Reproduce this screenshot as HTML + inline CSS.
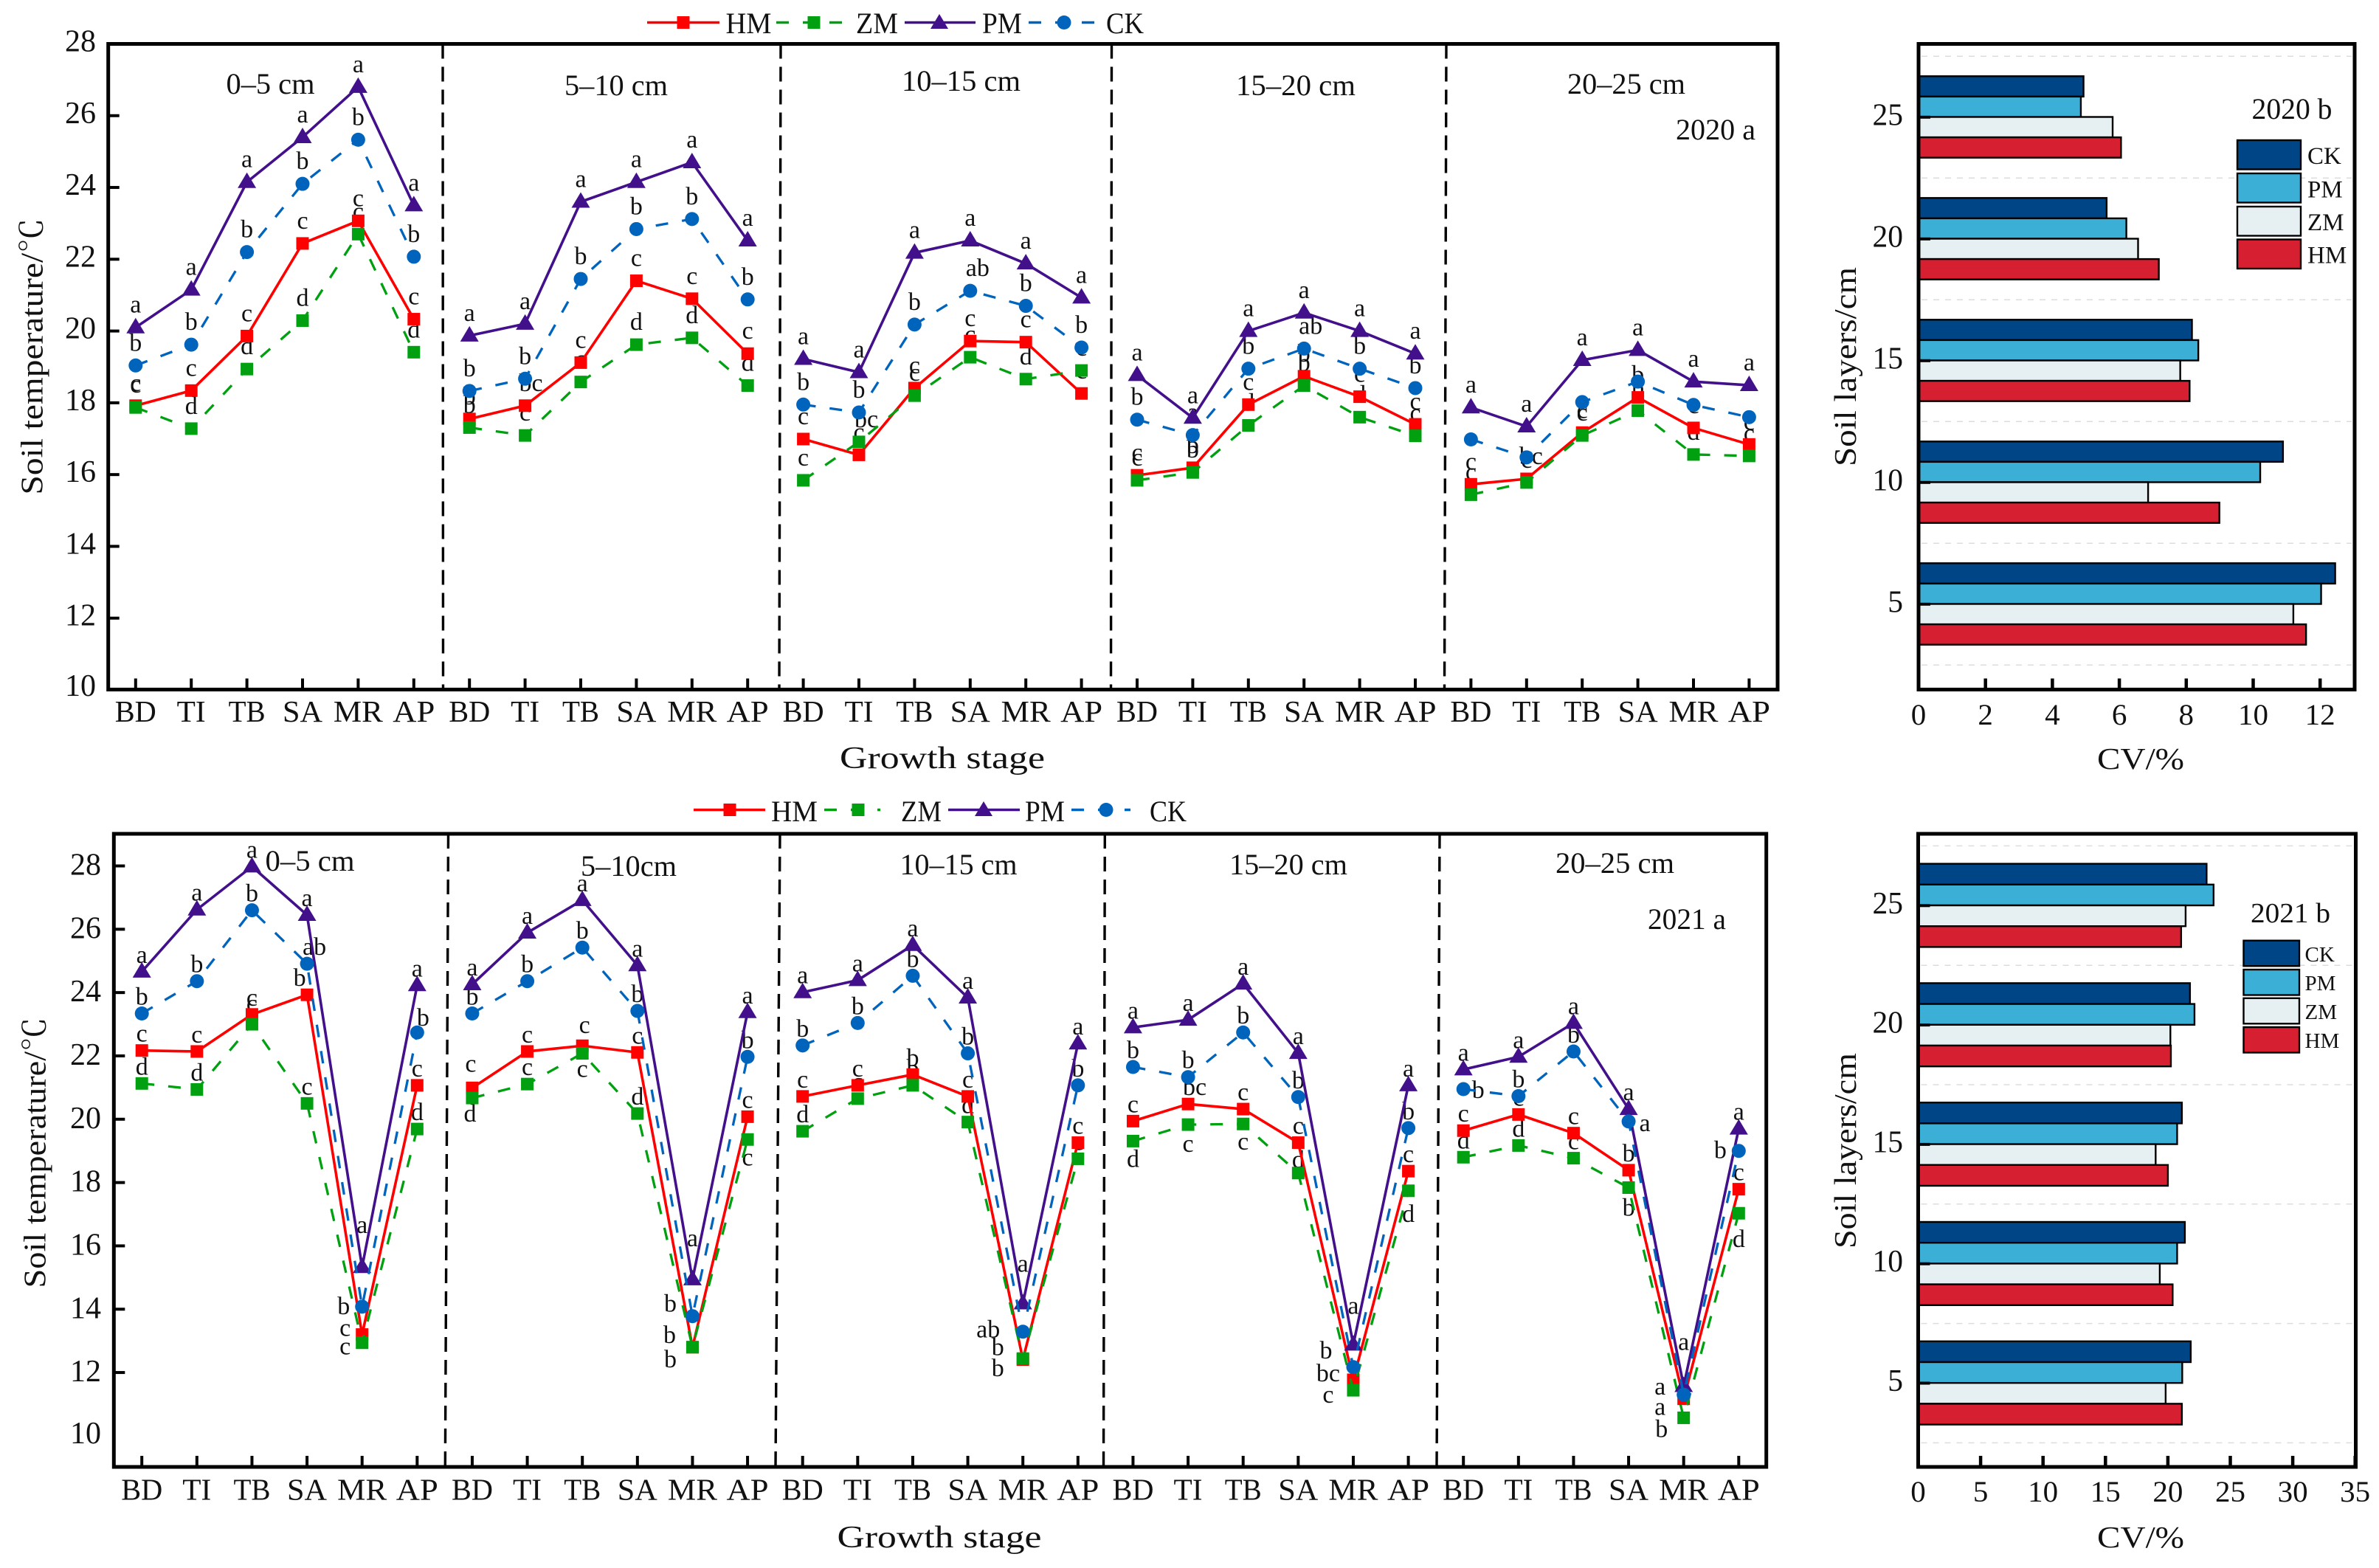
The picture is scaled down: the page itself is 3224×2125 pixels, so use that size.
<!DOCTYPE html>
<html lang="en">
<head>
<meta charset="utf-8">
<title>Soil temperature and CV by growth stage and soil layer, 2020 and 2021</title>
<style>
html,body{margin:0;padding:0;background:#fff;}
svg{display:block;}
text{font-family:"Liberation Serif","Noto Serif CJK SC",serif;fill:#111;}
</style>
</head>
<body>
<svg id="figure" xmlns="http://www.w3.org/2000/svg" width="3224" height="2125" viewBox="0 0 3224 2125">
  <rect x="0" y="0" width="3224" height="2125" fill="#fff"/>

  <!-- 2020 line chart static parts -->
  <g id="line2020">
    <text transform="translate(57.5 483) rotate(-90)" text-anchor="middle" font-size="42" textLength="375" lengthAdjust="spacingAndGlyphs">Soil temperature/℃</text>
    <text x="1277" y="1041" text-anchor="middle" font-size="42" textLength="278" lengthAdjust="spacingAndGlyphs">Growth stage</text>
    <text x="366.5" y="127" text-anchor="middle" font-size="40" textLength="120" lengthAdjust="spacingAndGlyphs">0–5 cm</text>
    <text x="835" y="129" text-anchor="middle" font-size="40" textLength="140" lengthAdjust="spacingAndGlyphs">5–10 cm</text>
    <text x="1302.5" y="123" text-anchor="middle" font-size="40" textLength="161" lengthAdjust="spacingAndGlyphs">10–15 cm</text>
    <text x="1756" y="129" text-anchor="middle" font-size="40" textLength="162" lengthAdjust="spacingAndGlyphs">15–20 cm</text>
    <text x="2204" y="127" text-anchor="middle" font-size="40" textLength="160" lengthAdjust="spacingAndGlyphs">20–25 cm</text>
    <text x="2325" y="189" text-anchor="middle" font-size="40" textLength="108" lengthAdjust="spacingAndGlyphs">2020 a</text>
    <g>
      <g>
        <line x1="877" y1="30.5" x2="975" y2="30.5" stroke="#ff0000" stroke-width="3.6"/>
        <rect x="917.5" y="22" width="17" height="17" fill="#ff0000"/>
        <text x="983.5" y="45" font-size="40" textLength="62" lengthAdjust="spacingAndGlyphs">HM</text>
      </g>
      <g>
        <line x1="1052" y1="30.5" x2="1148" y2="30.5" stroke="#00a010" stroke-width="3.4" stroke-dasharray="17 19"/>
        <rect x="1094.5" y="22" width="17" height="17" fill="#00a010"/>
        <text x="1160" y="45" font-size="40" textLength="57" lengthAdjust="spacingAndGlyphs">ZM</text>
      </g>
      <g>
        <line x1="1226" y1="30.5" x2="1322" y2="30.5" stroke="#43108c" stroke-width="3.6"/>
        <polygon points="1273,19 1285,39 1261,39" fill="#43108c"/>
        <text x="1331" y="45" font-size="40" textLength="54" lengthAdjust="spacingAndGlyphs">PM</text>
      </g>
      <g>
        <line x1="1394" y1="30.5" x2="1490" y2="30.5" stroke="#0064bd" stroke-width="3.4" stroke-dasharray="17 19"/>
        <circle cx="1442" cy="30.5" r="9.5" fill="#0064bd"/>
        <text x="1499" y="45" font-size="40" textLength="51" lengthAdjust="spacingAndGlyphs">CK</text>
      </g>
    </g>
  </g>

  <!-- 2021 line chart static parts -->
  <g id="line2021">
    <text transform="translate(61.7 1562) rotate(-90)" text-anchor="middle" font-size="42" textLength="367" lengthAdjust="spacingAndGlyphs">Soil temperature/℃</text>
    <text x="1273" y="2097" text-anchor="middle" font-size="42" textLength="277" lengthAdjust="spacingAndGlyphs">Growth stage</text>
    <text x="420" y="1180" text-anchor="middle" font-size="40" textLength="121" lengthAdjust="spacingAndGlyphs">0–5 cm</text>
    <text x="852" y="1187" text-anchor="middle" font-size="40" textLength="130" lengthAdjust="spacingAndGlyphs">5–10cm</text>
    <text x="1299" y="1185" text-anchor="middle" font-size="40" textLength="159" lengthAdjust="spacingAndGlyphs">10–15 cm</text>
    <text x="1746" y="1185" text-anchor="middle" font-size="40" textLength="160" lengthAdjust="spacingAndGlyphs">15–20 cm</text>
    <text x="2188.5" y="1183" text-anchor="middle" font-size="40" textLength="161" lengthAdjust="spacingAndGlyphs">20–25 cm</text>
    <text x="2286" y="1259" text-anchor="middle" font-size="40" textLength="106" lengthAdjust="spacingAndGlyphs">2021 a</text>
    <g>
      <g>
        <line x1="940" y1="1097.5" x2="1037" y2="1097.5" stroke="#ff0000" stroke-width="3.6"/>
        <rect x="980.5" y="1089" width="17" height="17" fill="#ff0000"/>
        <text x="1045" y="1113" font-size="40" textLength="63" lengthAdjust="spacingAndGlyphs">HM</text>
      </g>
      <g>
        <line x1="1117" y1="1097.5" x2="1193" y2="1097.5" stroke="#00a010" stroke-width="3.4" stroke-dasharray="17 19"/>
        <rect x="1154.5" y="1089" width="17" height="17" fill="#00a010"/>
        <text x="1221" y="1113" font-size="40" textLength="55" lengthAdjust="spacingAndGlyphs">ZM</text>
      </g>
      <g>
        <line x1="1285" y1="1097.5" x2="1382" y2="1097.5" stroke="#43108c" stroke-width="3.6"/>
        <polygon points="1333,1086 1345,1106 1321,1106" fill="#43108c"/>
        <text x="1389" y="1113" font-size="40" textLength="54" lengthAdjust="spacingAndGlyphs">PM</text>
      </g>
      <g>
        <line x1="1452" y1="1097.5" x2="1532" y2="1097.5" stroke="#0064bd" stroke-width="3.4" stroke-dasharray="17 19"/>
        <circle cx="1499" cy="1097.5" r="9.5" fill="#0064bd"/>
        <text x="1558" y="1113" font-size="40" textLength="50" lengthAdjust="spacingAndGlyphs">CK</text>
      </g>
    </g>
  </g>

  <!-- 2020 bar chart static parts -->
  <g id="bar2020">
    <text transform="translate(2515 497) rotate(-90)" text-anchor="middle" font-size="42" textLength="270" lengthAdjust="spacingAndGlyphs">Soil layers/cm</text>
    <text x="2901" y="1042" text-anchor="middle" font-size="41" textLength="118" lengthAdjust="spacingAndGlyphs">CV/%</text>
    <text x="3106" y="161" text-anchor="middle" font-size="40" textLength="109" lengthAdjust="spacingAndGlyphs">2020 b</text>
  </g>

  <!-- 2021 bar chart static parts -->
  <g id="bar2021">
    <text transform="translate(2515 1559.5) rotate(-90)" text-anchor="middle" font-size="42" textLength="265" lengthAdjust="spacingAndGlyphs">Soil layers/cm</text>
    <text x="2901" y="2097" text-anchor="middle" font-size="41" textLength="118" lengthAdjust="spacingAndGlyphs">CV/%</text>
    <text x="3104" y="1250" text-anchor="middle" font-size="38" textLength="108" lengthAdjust="spacingAndGlyphs">2021 b</text>
  </g>
</svg>

<script>
// ---------- Shared categories and ticks ----------
const categories = ["BD","TI","TB","SA","MR","AP"];
const tempTicks2020 = [10,12,14,16,18,20,22,24,26,28];
const tempTicks2021 = [10,12,14,16,18,20,22,24,26,28];
const cvTicks2020 = [0,2,4,6,8,10,12];
const cvTicks2021 = [0,5,10,15,20,25,30,35];
const layers = [25,20,15,10,5];
const barSeries = ["CK","PM","ZM","HM"];

// ---------- 2020 soil temperature (0-5, 5-10, 10-15, 15-20, 20-25 cm; six stages each) ----------
const hm2020 = [17.92,18.34,19.86,22.44,23.07,20.33, 17.55,17.92,19.12,21.40,20.90,19.37, 16.99,16.55,18.41,19.72,19.69,18.26, 15.98,16.19,17.95,18.74,18.17,17.40, 15.73,15.88,17.17,18.15,17.30,16.84];
const zm2020 = [17.87,17.28,18.94,20.29,22.70,19.41, 17.31,17.09,18.58,19.62,19.81,18.48, 15.84,16.91,18.20,19.27,18.66,18.90, 15.84,16.06,17.37,18.48,17.60,17.08, 15.44,15.78,17.09,17.78,16.56,16.52];
const pm2020 = [20.10,21.15,24.15,25.40,26.80,23.50, 19.87,20.20,23.60,24.15,24.70,22.52, 19.22,18.85,22.18,22.52,21.88,20.93, 18.77,17.58,20.00,20.51,20.00,19.37, 17.87,17.34,19.19,19.47,18.59,18.49];
const ck2020 = [19.04,19.62,22.20,24.10,25.33,22.07, 18.33,18.67,21.45,22.84,23.12,20.88, 17.95,17.73,20.18,21.12,20.70,19.54, 17.53,17.10,18.95,19.51,18.95,18.41, 16.98,16.48,18.02,18.59,17.94,17.60];

// ---------- 2021 soil temperature ----------
const hm2021 = [22.17,22.14,23.31,23.93,13.20,21.07, 20.99,22.14,22.32,22.11,12.80,20.08, 20.72,21.07,21.41,20.72,12.41,19.26, 19.94,20.48,20.32,19.26,11.77,18.36, 19.64,20.15,19.56,18.39,11.17,17.79];
const zm2021 = [21.13,20.94,23.00,20.50,12.94,19.69, 20.67,21.11,22.08,20.18,12.80,19.36, 19.62,20.65,21.07,19.91,12.44,18.75, 19.31,19.83,19.85,18.30,11.44,17.74, 18.80,19.17,18.77,17.84,10.57,17.03];
const pm2021 = [24.66,26.62,27.98,26.45,15.33,24.23, 24.26,25.89,26.92,24.86,14.94,23.38, 24.01,24.39,25.50,23.84,14.18,22.39, 22.90,23.14,24.28,22.09,12.88,21.07, 21.57,21.97,23.04,20.32,11.57,19.70];
const ck2021 = [23.34,24.36,26.60,24.91,14.08,22.74, 23.34,24.36,25.42,23.42,13.78,21.97, 22.33,23.04,24.53,22.08,13.29,21.07, 21.65,21.33,22.74,20.70,12.17,19.72, 20.95,20.73,22.14,19.93,11.30,19.00];

// ---------- Significance letters ----------
const hmLetters2020 = ["c","c","c","c","c","c", "b","bc","c","c","c","c", "c","c","c","c","c","c", "c","b","c","b","c","c", "c","bc","c","b","c","c"];
const zmLetters2020 = ["c","d","d","d","c","d", "b","c","c","d","d","d", "c","bc","c","c","d","c", "c","b","d","b","d","c", "c","c","c","b","d","c"];
const pmLetters2020 = ["a","a","a","a","a","a", "a","a","a","a","a","a", "a","a","a","a","a","a", "a","a","a","a","a","a", "a","a","a","a","a","a"];
const ckLetters2020 = ["b","b","b","b","b","b", "b","b","b","b","b","b", "b","b","b","ab","b","b", "b","a","b","ab","b","b", "","","","","",""];
const hmLetters2021 = ["c","c","c","b","c","c", "c","c","c","c","b","c", "c","c","b","c","b","c", "c","bc","c","c","bc","c", "c","c","c","b","a","c"];
const zmLetters2021 = ["d","d","c","c","c","d", "d","c","c","d","b","c", "d","c","b","d","b","c", "d","c","c","d","c","d", "d","d","c","b","b","d"];
const pmLetters2021 = ["a","a","a","a","a","a", "a","a","a","a","a","a", "a","a","a","a","a","a", "a","a","a","a","a","a", "a","a","a","a","a","a"];
const ckLetters2021 = ["b","b","b","ab","b","b", "b","b","b","b","b","b", "b","b","b","b","ab","b", "b","b","b","b","b","b", "b","b","b","a","a","b"];

// Label nudges away from the default spot above a marker, keyed by point index: [dx, dy].
const nudges2020 = {
  HM: {7:[8,0], 25:[6,0]},
  ZM: {13:[10,0]},
  PM: {},
  CK: {15:[10,0], 21:[9,0]}
};
const nudges2021 = {
  HM: {3:[-10,0], 4:[-23,14], 6:[-2,-10], 8:[3,-5], 10:[-31,6], 16:[-34,6], 19:[9,0], 22:[-34,14], 28:[-32,34]},
  ZM: {2:[0,-5], 4:[-23,28], 6:[-3,44], 8:[0,44], 10:[-30,39], 11:[0,47], 16:[-34,36], 18:[0,47], 19:[0,49], 20:[0,47], 21:[0,5], 22:[-34,29], 23:[0,54], 27:[0,50], 28:[-30,38], 29:[0,58]},
  PM: {4:[0,-34], 10:[0,-33], 16:[0,-31], 22:[0,-30], 28:[0,-37]},
  CK: {3:[10,0], 4:[-25,22], 5:[8,3], 10:[-30,6], 16:[-47,20], 22:[-37,0], 24:[20,24], 27:[22,25], 28:[-32,12], 29:[-25,22]}
};

// ---------- CV bars (order: layers 25, 20, 15, 10, 5) ----------
const cvCk2020 = [4.93,5.62,8.17,10.89,12.45];
const cvPm2020 = [4.85,6.21,8.36,10.21,12.03];
const cvZm2020 = [5.80,6.56,7.82,6.86,11.20];
const cvHm2020 = [6.05,7.18,8.10,8.99,11.58];
const cvCk2021 = [23.10,21.77,21.12,21.36,21.83];
const cvPm2021 = [23.66,22.13,20.74,20.74,21.15];
const cvZm2021 = [21.42,20.20,19.02,19.35,19.82];
const cvHm2021 = [21.06,20.24,20.00,20.38,21.12];

// ---------- Axis functions ----------
function xStage2020(i){ return 183.8 + i * 75.4; }
function yTemp2020(v){ return 935 - (v - 10) * 48.64; }
function xStage2021(i){ return 192.2 + i * 74.625; }
function yTemp2021(v){ return 1945.9 - (v - 10) * 42.91; }
function xCv2020(v){ return 2600 + v * 45.35; }
function yLayer2020(l){ return 818.8 - (l - 5) / 5 * 165; }
function xCv2021(v){ return 2599.5 + v * 16.92; }
function yLayer2021(l){ return 1874.5 - (l - 5) / 5 * 161.8; }

// ---------- Drawing helpers ----------
const NS = "http://www.w3.org/2000/svg";
const seriesColor = {HM:"#ff0000", ZM:"#00a010", PM:"#43108c", CK:"#0064bd"};
const barColor = {CK:"#004585", PM:"#3bafd6", ZM:"#e6f0f3", HM:"#d61f31"};
const stageLabelWidth = {BD:56,TI:39,TB:50,SA:54,MR:67,AP:57};

function make(parent, tag, attrs){
  const node = document.createElementNS(NS, tag);
  for (const k in attrs) node.setAttribute(k, attrs[k]);
  parent.appendChild(node);
  return node;
}

function tickLine(parent, x1, y1, x2, y2, width){
  const t = make(parent, "line", {x1:x1, y1:y1, x2:x2, y2:y2, stroke:"#000", "stroke-width":width});
  
  
  return t;
}

function tickText(parent, str, x, y, size, anchor, len){
  const t = make(parent, "text", {x:x, y:y, "font-size":size, "text-anchor":anchor});
  if (len) { t.setAttribute("textLength", len); t.setAttribute("lengthAdjust", "spacingAndGlyphs"); }
  t.textContent = str;
  
  
  return t;
}

function drawFrame(parent, x, y, w, h){
  const f = make(parent, "rect", {x:x, y:y, width:w, height:h, fill:"none", stroke:"#000", "stroke-width":5});
  
  
}

function drawMarker(parent, key, cx, cy){
  let m;
  if (key === "HM" || key === "ZM") {
    m = make(parent, "rect", {x:cx - 8.5, y:cy - 8.5, width:17, height:17, fill:seriesColor[key]});
  } else if (key === "PM") {
    m = make(parent, "polygon", {points:(cx)+","+(cy-13)+" "+(cx+12.5)+","+(cy+8)+" "+(cx-12.5)+","+(cy+8), fill:seriesColor[key]});
  } else {
    m = make(parent, "circle", {cx:cx, cy:cy, r:9.5, fill:seriesColor[key]});
  }
  
  
}

function drawLineChart(cfg){
  const g = document.getElementById(cfg.id);
  // dashed separators between depth panels
  cfg.separators.forEach(function(s){
    const d = make(g, "line", {x1:s[0], y1:cfg.top, x2:s[1], y2:cfg.bottom, stroke:"#000", "stroke-width":3.4, "stroke-dasharray":"20 11"});
    
    
  });
  // axes
  drawFrame(g, cfg.left, cfg.top, cfg.right - cfg.left, cfg.bottom - cfg.top);
  cfg.yTicks.forEach(function(v){
    const y = cfg.y(v);
    if (v !== 10) tickLine(g, cfg.left, y, cfg.left + 15, y, 4);
    tickText(g, String(v), cfg.yLabelX, y + cfg.yLabelShift - (v === 10 ? 2 : 0), 42, "end");
  });
  for (let i = 0; i < 30; i++) {
    const x = cfg.x(i);
    const cat = categories[i % 6];
    tickLine(g, x, cfg.bottom, x, cfg.bottom - 15, 4);
    tickText(g, cat, x, cfg.xLabelY, 41, "middle", stageLabelWidth[cat]);
  }
  // significance letters sit below the markers
  ["HM","ZM","PM","CK"].forEach(function(key){
    const s = cfg.series[key];
    s.values.forEach(function(v, i){
      if (!s.letters[i]) return;
      const n = s.nudges[i] || [0,0];
      const t = make(g, "text", {x:cfg.x(i) + n[0], y:cfg.y(v) - cfg.letterGap + n[1], "font-size":34, "text-anchor":"middle"});
      t.textContent = s.letters[i];
      
      
    });
  });
  // series lines, one path per depth panel, then markers
  ["HM","ZM","PM","CK"].forEach(function(key){
    const s = cfg.series[key];
    const dashed = (key === "ZM" || key === "CK");
    for (let p = 0; p < 5; p++) {
      let d = "";
      for (let i = p * 6; i < p * 6 + 6; i++) {
        d += (i === p * 6 ? "M" : "L") + cfg.x(i).toFixed(2) + " " + cfg.y(s.values[i]).toFixed(2);
      }
      const line = make(g, "path", {d:d, fill:"none", stroke:seriesColor[key], "stroke-width":dashed ? 3.3 : 3.6, "stroke-linejoin":"round"});
      if (dashed) line.setAttribute("stroke-dasharray", "17 19");
      
      
    }
    s.values.forEach(function(v, i){ drawMarker(g, key, cfg.x(i), cfg.y(v)); });
  });
}

function drawBarChart(cfg){
  const g = document.getElementById(cfg.id);
  // light dashed reference lines between layers
  layers.forEach(function(l){
    const y = cfg.y(l) + cfg.gridOffset;
    const d = make(g, "line", {x1:cfg.left + 4, y1:y, x2:cfg.right - 4, y2:y, stroke:"#dddddd", "stroke-width":1.5, "stroke-dasharray":"8 8"});
    
    
  });
  const topY = cfg.y(25) - cfg.gridOffset;
  const top = make(g, "line", {x1:cfg.left + 4, y1:topY, x2:cfg.right - 4, y2:topY, stroke:"#dddddd", "stroke-width":1.5, "stroke-dasharray":"8 8"});
  
  
  // bars
  layers.forEach(function(l, li){
    barSeries.forEach(function(key, si){
      const val = cfg.values[key][li];
      const b = make(g, "rect", {
        x:cfg.x(0), y:cfg.y(l) + (si - 2) * cfg.barH + cfg.groupShift,
        width:cfg.x(val) - cfg.x(0), height:cfg.barH,
        fill:barColor[key], stroke:"#000", "stroke-width":2.4
      });
      
      
    });
    tickLine(g, cfg.left, cfg.y(l), cfg.left + 16, cfg.y(l), 4);
    tickText(g, String(l), cfg.yLabelX, cfg.y(l) + 10.5, 42, "end", String(l).length * 41.5 / 2);
  });
  // frame and x axis
  drawFrame(g, cfg.left, cfg.top, cfg.right - cfg.left, cfg.bottom - cfg.top);
  cfg.xTicks.forEach(function(v){
    const x = cfg.x(v);
    if (v !== 0) tickLine(g, x, cfg.bottom, x, cfg.bottom - 15, 4.5);
    tickText(g, String(v), x, cfg.xLabelY, 40, "middle", String(v).length * 20.5);
  });
  // legend
  const lg = make(g, "g", {});
  
  
  barSeries.forEach(function(key, i){
    const box = make(lg, "rect", {x:cfg.legend.x, y:cfg.legend.y[i], width:cfg.legend.w, height:cfg.legend.h, fill:barColor[key], stroke:"#000", "stroke-width":2.4});
    
    
    const lab = make(lg, "text", {x:cfg.legend.tx, y:cfg.legend.ty[i], "font-size":cfg.legend.size});
    lab.textContent = key;
    
    
  });
}

// ---------- Build the four charts ----------
drawLineChart({
  id:"line2020", left:146.7, right:2409, top:59.5, bottom:934.5, x:xStage2020, y:yTemp2020,
  yTicks:tempTicks2020, yLabelX:130, yLabelShift:10, xLabelY:978, letterGap:20,
  separators:[[600,600.5],[1058,1056],[1506.5,1505.5],[1960,1957.5]],
  series:{
    HM:{values:hm2020, letters:hmLetters2020, nudges:nudges2020.HM},
    ZM:{values:zm2020, letters:zmLetters2020, nudges:nudges2020.ZM},
    PM:{values:pm2020, letters:pmLetters2020, nudges:nudges2020.PM},
    CK:{values:ck2020, letters:ckLetters2020, nudges:nudges2020.CK}
  }
});
drawLineChart({
  id:"line2021", left:154.3, right:2393.7, top:1130, bottom:1988, x:xStage2021, y:yTemp2021,
  yTicks:tempTicks2021, yLabelX:137, yLabelShift:12, xLabelY:2032.5, letterGap:12,
  separators:[[607.5,603.3],[1057,1051],[1497.3,1495.5],[1951,1947]],
  series:{
    HM:{values:hm2021, letters:hmLetters2021, nudges:nudges2021.HM},
    ZM:{values:zm2021, letters:zmLetters2021, nudges:nudges2021.ZM},
    PM:{values:pm2021, letters:pmLetters2021, nudges:nudges2021.PM},
    CK:{values:ck2021, letters:ckLetters2021, nudges:nudges2021.CK}
  }
});
drawBarChart({
  id:"bar2020", left:2600, right:3191, top:59.5, bottom:934.5, x:xCv2020, y:yLayer2020,
  xTicks:cvTicks2020, yLabelX:2579, xLabelY:982, barH:27.6, groupShift:-0.3, gridOffset:82.5,
  values:{CK:cvCk2020, PM:cvPm2020, ZM:cvZm2020, HM:cvHm2020},
  legend:{x:3032, w:86, h:39.5, y:[190,235,280,324.5], tx:3127, ty:[222,267.5,312,356.5], size:33}
});
drawBarChart({
  id:"bar2021", left:2599.5, right:3192.5, top:1130, bottom:1988, x:xCv2021, y:yLayer2021,
  xTicks:cvTicks2021, yLabelX:2579, xLabelY:2035, barH:28.2, groupShift:-0.3, gridOffset:80.9,
  values:{CK:cvCk2021, PM:cvPm2021, ZM:cvZm2021, HM:cvHm2021},
  legend:{x:3040.5, w:75.5, h:34.5, y:[1274.7,1314,1352.8,1392], tx:3123.5, ty:[1303,1342,1381,1420], size:29}
});
</script>
</body>
</html>
